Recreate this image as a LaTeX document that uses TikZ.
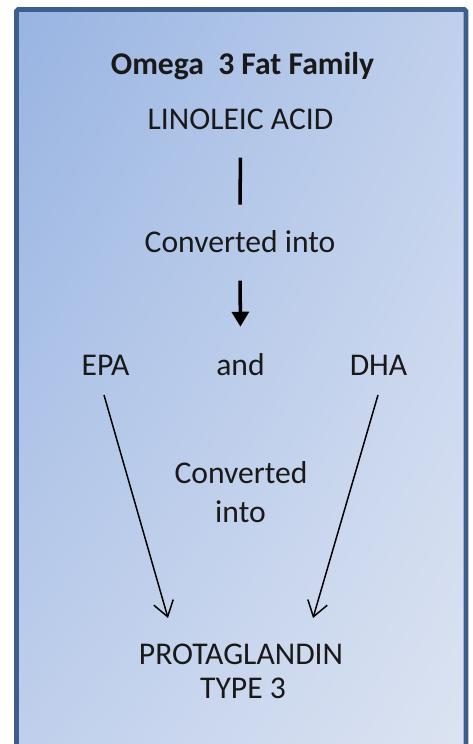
\documentclass[tikz,border=0pt]{standalone}
\usepackage{fontspec}
\setmainfont{Carlito}
\usepackage{tikz}
\usetikzlibrary{arrows.meta,shadings}
\usepackage{xcolor}

\definecolor{caixavora}{HTML}{3D5F8E}
\definecolor{blausup}{HTML}{98B4E2}
\definecolor{blausupdr}{HTML}{C0D0EC}
\definecolor{blauinf}{HTML}{C0D0EC}
\definecolor{blauinfdr}{HTML}{DDE4F2}

\tikzset{
    etiqueta/.style={anchor=base, inner sep=0pt, font=\fontsize{18}{21.6}\selectfont, text=black!90},
    titol/.style={etiqueta, font=\fontsize{18}{21.6}\selectfont\bfseries}
}

\begin{document}
\begin{tikzpicture}[>=Stealth, scale=1]

\useasboundingbox (0,0) rectangle (9.46,14.88);
\clip (0,0) rectangle (9.46,14.88);

% Caixa

\shade[
    upper left=blausup,
    upper right=blausupdr,
    lower left=blauinf,
    lower right=blauinfdr
] (0.33,-0.5) rectangle (9.32,14.69);

\draw[
    line width=2.8pt,
    rounded corners=1pt,
    caixavora
] (0.33,-0.5) rectangle (9.32,14.69);


% Textos

\node[titol] (title) at (4.85,13.38) {Omega\ \ 3 Fat Family};
\node[etiqueta] (linoleic) at (4.81,12.28) {LINOLEIC ACID};
\node[etiqueta] (conv1) at (4.80,9.82) {Converted into};
\node[etiqueta] (epa) at (2.11,7.36) {EPA};
\node[etiqueta] (and) at (4.81,7.36) {and};
\node[etiqueta] (dha) at (7.57,7.36) {DHA};
\node[etiqueta] (conv2) at (4.82,5.22) {Converted};
\node[etiqueta] (into) at (4.81,4.42) {into};
\node[etiqueta] (prost) at (4.82,1.58) {PROTAGLANDIN};
\node[etiqueta] (type) at (4.86,0.92) {TYPE 3};

\coordinate (epaout) at (2.08,6.98);
\coordinate (dhaout) at (7.56,6.98);
\coordinate (prostl) at (3.36,2.52);
\coordinate (prostr) at (6.26,2.52);


% Línies

\draw[
    line width=2pt,
    shorten <=0.54cm,
    shorten >=0.52cm
] (linoleic.south) -- (conv1.north);

\draw[
    -{Triangle[length=8.5pt, width=9.6pt]},
    line width=2pt,
    shorten <=0.54cm,
    shorten >=0.54cm
] (conv1.south) -- (and.north);

\draw[
    -{Straight Barb[length=8.5pt, width=11.5pt]},
    line width=0.85pt
] (epaout) -- (prostl);

\draw[
    -{Straight Barb[length=8.5pt, width=11.5pt]},
    line width=0.85pt
] (dhaout) -- (prostr);

\end{tikzpicture}
\end{document}
